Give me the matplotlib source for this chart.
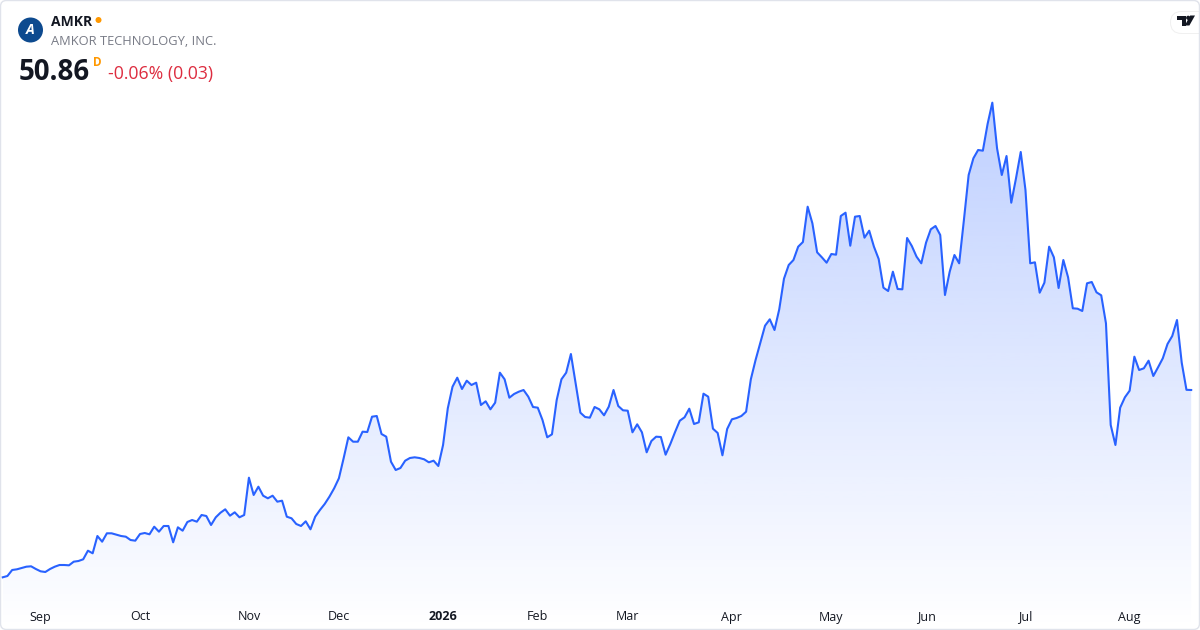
import numpy as np
import pandas as pd
import matplotlib
matplotlib.use("Agg")
import matplotlib.pyplot as plt
import matplotlib.colors as mcolors
from matplotlib.patches import Polygon, Circle, FancyBboxPatch
from matplotlib.transforms import IdentityTransform

plt.rcParams["font.family"] = ["Open Sans", "DejaVu Sans"]

ticker = "AMKR"
company = "AMKOR TECHNOLOGY, INC."

# daily closes, 2025-08-20 .. 2026-08-20
closes = [
    20.89, 21.10, 22.06, 22.17, 22.38, 22.59, 22.65, 22.22, 21.85, 21.74,
    22.22, 22.59, 22.86, 22.86, 22.81, 23.39, 23.50, 23.77, 25.15, 24.73,
    27.50, 26.59, 27.93, 27.93, 27.71, 27.50, 27.39, 26.86, 26.75, 27.82,
    27.98, 27.77, 28.99, 28.19, 29.10, 29.10, 26.49, 28.89, 28.35, 29.74,
    30.06, 29.79, 30.86, 30.70, 29.26, 30.49, 31.23, 31.77, 30.75, 31.29,
    30.49, 30.86, 36.83, 34.06, 35.39, 33.95, 33.53, 33.95, 32.99, 33.15,
    30.59, 30.33, 29.42, 29.10, 29.85, 28.57, 30.59, 31.66, 32.62, 33.79,
    35.13, 36.73, 39.93, 43.29, 42.59, 42.59, 44.19, 44.14, 46.59, 46.70,
    43.82, 43.39, 39.39, 38.06, 38.38, 39.55, 39.98, 40.09, 39.98, 39.77,
    39.29, 39.55, 38.70, 42.06,
    47.93, 51.39, 52.83, 51.02, 52.35, 51.66, 52.03, 48.46, 49.05, 47.77,
    48.83, 53.63, 52.57, 49.63, 50.22, 50.59, 50.86, 49.79, 48.14, 48.03,
    46.06, 43.29, 43.77, 49.26, 52.57, 53.63, 56.62, 51.93, 47.23, 46.54,
    46.43, 48.14, 47.77, 46.81, 48.19, 50.86, 48.30, 47.61, 47.55, 44.09,
    45.37, 44.09, 40.89, 42.70, 43.39, 43.34, 40.51, 42.22, 44.14, 45.95,
    46.49, 47.87, 45.42, 45.69, 50.27, 49.79, 44.67, 43.98, 40.41, 44.62,
    46.17, 46.38, 46.70, 47.39,
    52.57, 55.66, 58.43, 61.15, 62.17, 60.46, 63.77, 68.67, 70.86, 71.66,
    73.79, 74.54, 80.19, 77.53, 72.89, 72.09, 71.23, 72.62, 72.51, 78.70,
    79.23, 73.95, 78.59, 78.70, 75.23, 76.35, 73.79, 71.82, 67.23, 66.70,
    69.79, 67.02, 66.97, 75.18, 73.90, 72.19, 71.13, 74.43, 76.57, 77.10,
    75.66, 66.06, 69.79, 72.46, 71.13, 78.06, 85.26, 87.93, 89.26, 89.15,
    93.42, 96.83, 89.53, 85.26, 88.30, 80.83, 84.73, 88.94, 82.86, 71.13,
    71.29, 66.43, 68.03, 73.79, 72.09, 67.18, 71.66, 68.89, 63.93, 63.87,
    63.50, 67.93, 68.14, 66.49, 66.01, 61.53, 45.26, 42.06, 48.03, 49.69,
    50.75, 56.19, 54.06, 54.33, 55.55, 53.10, 54.49, 55.93, 58.22, 59.50,
    62.06, 55.23, 50.89, 50.86,
]

holidays = ["2025-09-01", "2025-11-27", "2025-12-25", "2026-01-01", "2026-01-19",
            "2026-02-16", "2026-04-03", "2026-05-25", "2026-06-19", "2026-07-03"]
dates = pd.bdate_range("2025-08-20", periods=len(closes), freq="C", holidays=holidays)

last = closes[-1]
chg = closes[-1] - closes[-2]
pct = chg / closes[-2] * 100

W, H = 1200, 630
blue = "#2962ff"

fig = plt.figure(figsize=(W / 100, H / 100), dpi=100)
fig.patch.set_facecolor("white")
ax = fig.add_axes([0, 0, 1, 1])
ax.axis("off")

x = np.arange(len(closes))
base = 12.46
top = 97.26

# gradient area under the line
verts = np.column_stack([np.r_[x, x[::-1]], np.r_[closes, np.full(len(x), base)]])
clip = Polygon(verts, closed=True, facecolor="none", edgecolor="none")
ax.add_patch(clip)
grad = np.zeros((256, 1, 4))
grad[..., :3] = mcolors.to_rgb(blue)
grad[:, 0, 3] = np.linspace(0.30, 0.0, 256)
im = ax.imshow(grad, extent=[x[0], x[-1], base, top], aspect="auto",
               origin="upper", interpolation="bilinear", zorder=1)
im.set_clip_path(clip)

ax.plot(x, closes, color=blue, lw=1.5, zorder=3, solid_joinstyle="round")

ax.set_xlim(-0.57, 252.86)
ax.set_ylim(12.46, 113.26)

# month labels on first trading day of each month
for i in range(1, len(dates)):
    if dates[i].month != dates[i - 1].month:
        if dates[i].month == 1:
            lab, wt = str(dates[i].year), "bold"
        else:
            lab, wt = dates[i].strftime("%b"), "normal"
        ax.text(i, 1 - 617 / H, lab, transform=ax.get_xaxis_transform(),
                ha="center", va="center", fontsize=9, color="#131722",
                fontweight=wt, zorder=4)


def fx(px):
    return px / W


def fy(py):
    return 1 - py / H


# header
fig.add_artist(Circle((30.5, H - 30), 12.5, transform=IdentityTransform(),
                      facecolor="#0d4a8f", edgecolor="none"))
fig.text(fx(30.5), fy(30), "A", ha="center", va="center", fontsize=10,
         fontweight="bold", fontstyle="italic", color="white")
fig.text(fx(51), fy(26), ticker, ha="left", va="baseline", fontsize=10,
         fontweight="bold", color="#131722")
fig.add_artist(Circle((98.5, H - 20), 3, transform=IdentityTransform(),
                      facecolor="#ff9800", edgecolor="none"))
fig.text(fx(51), fy(45), company, ha="left", va="baseline", fontsize=9.25,
         color="#787b86")
fig.text(fx(19), fy(80), f"{last:.2f}", ha="left", va="baseline", fontsize=19.9,
         fontweight="bold", color="#131722")
fig.text(fx(93), fy(66), "D", ha="left", va="baseline", fontsize=8.5,
         fontweight="bold", color="#ff9800")
fig.text(fx(108), fy(79.5), f"{pct:+.2f}% ({abs(chg):.2f})", ha="left",
         va="baseline", fontsize=12.7, color="#dd2c3f")

# TradingView badge
fig.add_artist(FancyBboxPatch((1170, H - 34), 44, 23, boxstyle="round,pad=0,rounding_size=11.5",
                              transform=IdentityTransform(), facecolor="#000000",
                              edgecolor="none", alpha=0.06))
fig.add_artist(FancyBboxPatch((1171, H - 33), 44, 21, boxstyle="round,pad=0,rounding_size=10.5",
                              transform=IdentityTransform(), facecolor="white",
                              edgecolor="none"))
tv = dict(transform=IdentityTransform(), facecolor="#131722", edgecolor="none")
fig.add_artist(Polygon([(1177, H - 15.5), (1186, H - 15.5), (1186, H - 25.5),
                        (1181.5, H - 25.5), (1181.5, H - 19.8), (1177, H - 19.8)], **tv))
fig.add_artist(Circle((1188.2, H - 17.8), 2.1, **tv))
fig.add_artist(Polygon([(1190.2, H - 15.5), (1195, H - 15.5), (1189.4, H - 25.5),
                        (1184.8, H - 25.5)], **tv))

# card border
fig.add_artist(FancyBboxPatch((0.5, 0.5), W - 1, H - 1, boxstyle="round,pad=0,rounding_size=6",
                              transform=IdentityTransform(), facecolor="none",
                              edgecolor="#e0e3eb", lw=1))

fig.savefig("out.png", dpi=100)
